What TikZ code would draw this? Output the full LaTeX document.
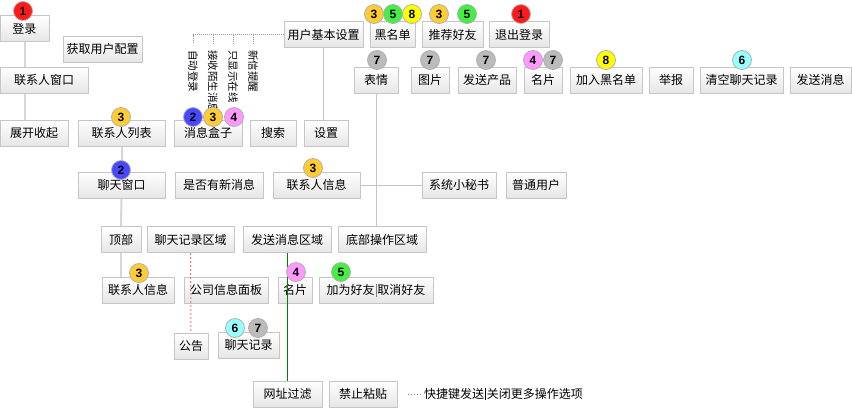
\documentclass[tikz,border=0pt]{standalone}
\usepackage{fontspec}
\setmainfont{Noto Sans CJK SC}
\newfontfamily\numfont{Liberation Sans}
\usetikzlibrary{backgrounds}
\definecolor{bordergray}{HTML}{C6C6C6}
\definecolor{boxbottom}{HTML}{E6E6E6}
\definecolor{linegray}{HTML}{D6D6D6}
\definecolor{thingray}{HTML}{C4C4C4}
\definecolor{badgeborder}{HTML}{B0B0B0}
\definecolor{cA}{HTML}{FF1A1A}
\definecolor{cB}{HTML}{4848FF}
\definecolor{cC}{HTML}{FFCC33}
\definecolor{cD}{HTML}{FF99FF}
\definecolor{cE}{HTML}{44EE44}
\definecolor{cF}{HTML}{99FFFF}
\definecolor{cG}{HTML}{BBBBBB}
\definecolor{cH}{HTML}{FFFF00}
\definecolor{greenline}{HTML}{008000}
\definecolor{redline}{HTML}{EE7777}
\begin{document}
\begin{tikzpicture}[x=1pt,y=-1pt,
  bx/.style={draw=bordergray, line width=1pt, top color=white, bottom color=boxbottom,
    minimum height=26pt, inner sep=0pt, font=\fontsize{12}{14}\selectfont},
  badge/.style={circle, draw=badgeborder, line width=0.8pt, minimum size=19pt, inner sep=0pt,
    font=\numfont\bfseries\fontsize{12}{12}\selectfont},
  vtext/.style={rotate=-90, anchor=west, inner xsep=7pt, inner ysep=0pt,
    font=\fontsize{10.5}{11}\selectfont},
  thick line/.style={draw=linegray, line width=2pt},
  thin line/.style={draw=thingray, line width=1pt},
  dotline/.style={draw=gray!80, line width=1pt, densely dotted}]
\useasboundingbox (0,0) rectangle (852,408);

% ---------- boxes ----------
\node[bx, minimum width=49pt] (login) at (24.5,28.5) {登录};
\node[bx, minimum width=79pt] (getcfg) at (102.5,49) {获取用户配置};
\node[bx, minimum width=88pt] (cwin) at (44,80) {联系人窗口};
\node[bx, minimum width=68pt] (expand) at (34,133) {展开收起};
\node[bx, minimum width=87pt] (clist) at (121.5,133) {联系人列表};
\node[bx, minimum width=68pt] (msgbox) at (208,133) {消息盒子};
\node[bx, minimum width=46pt] (search) at (273,133) {搜索};
\node[bx, minimum width=79pt] (usr) at (323.5,34.5) {用户基本设置};
\node[bx, minimum width=44pt] (setting) at (326,133) {设置};
\node[bx, minimum width=45pt] (black) at (392.5,34.5) {黑名单};
\node[bx, minimum width=61pt] (recom) at (452.5,34.5) {推荐好友};
\node[bx, minimum width=60pt] (logout) at (519,34.5) {退出登录};
\node[bx, minimum width=44pt] (emo) at (376,80) {表情};
\node[bx, minimum width=38pt] (pic) at (430,80) {图片};
\node[bx, minimum width=58pt] (prod) at (487,80) {发送产品};
\node[bx, minimum width=38pt] (card) at (543,80) {名片};
\node[bx, minimum width=72pt] (addblack) at (606,80) {加入黑名单};
\node[bx, minimum width=44pt] (report) at (671,80) {举报};
\node[bx, minimum width=83pt] (clear) at (741.5,80) {清空聊天记录};
\node[bx, minimum width=61pt] (send) at (820.5,80) {发送消息};
\node[bx, minimum width=87pt] (chatwin) at (121.5,185) {聊天窗口};
\node[bx, minimum width=88pt] (newmsg) at (219,185) {是否有新消息};
\node[bx, minimum width=87pt] (cinfo) at (316.5,185) {联系人信息};
\node[bx, minimum width=74pt] (secr) at (459,185) {系统小秘书};
\node[bx, minimum width=60pt] (normal) at (536,185) {普通用户};
\node[bx, minimum width=40pt] (top) at (121,239.5) {顶部};
\node[bx, minimum width=87pt] (chatarea) at (190.5,239.5) {聊天记录区域};
\node[bx, minimum width=88pt] (sendarea) at (287,239.5) {发送消息区域};
\node[bx, minimum width=88pt] (bottomarea) at (382,239.5) {底部操作区域};
\node[bx, minimum width=72pt] (cinfo2) at (138,290) {联系人信息};
\node[bx, minimum width=84pt] (company) at (226,290) {公司信息面板};
\node[bx, minimum width=34pt] (card2) at (295,290) {名片};
\node[bx, minimum width=114pt] (friend) at (376,290)
  {加为好友\hspace{1pt}\textcolor{gray}{\rule[-2.5pt]{0.7pt}{13pt}}\hspace{1pt}取消好友};
\node[bx, minimum width=34pt] (notice) at (191,346) {公告};
\node[bx, minimum width=61pt] (history) at (248.5,345) {聊天记录};
\node[bx, minimum width=69pt] (url) at (287.5,394) {网址过滤};
\node[bx, minimum width=68pt] (nopaste) at (363,394) {禁止粘贴};
\node[anchor=west, inner xsep=2pt, inner ysep=0pt, font=\fontsize{12}{14}\selectfont] (note) at (422,394)
  {快捷键发送\hspace{1pt}\rule[-2pt]{0.7pt}{12pt}\hspace{1pt}关闭更多操作选项};
\coordinate (notedots) at (408,394);

% ---------- vertical option texts ----------
\node[vtext] (v1) at (193,43) {自动登录};
\node[vtext] (v2) at (213,43) {接收陌生消息};
\node[vtext] (v3) at (233,43) {只显示在线};
\node[vtext] (v4) at (253,43) {新信提醒};

% ---------- connectors (behind boxes) ----------
\begin{scope}[on background layer]
  \draw[thick line] (login.south) -- (login.south |- expand.north);
  \draw[thick line] (clist.south) -- (chatwin.north);
  \draw[thick line] (chatwin.south) -- (top.north);
  \draw[thick line] (top.south) -- (top.south |- cinfo2.north);
  \draw[thin line] (usr.south) -- (usr.south |- setting.north);
  \draw[thin line] (emo.south) -- (emo.south |- bottomarea.north);
  \draw[thin line] (cinfo.east) -- (secr.west);
  \draw[dotline] (usr.west) -- (usr.west -| v1.west) -- (v1.west);
  \draw[dotline] (usr.west -| v2.west) -- (v2.west);
  \draw[dotline] (usr.west -| v3.west) -- (v3.west);
  \draw[dotline] (usr.west -| v4.west) -- (v4.west);
\end{scope}

% connectors drawn over boxes
\draw[draw=greenline, line width=1pt] (sendarea.south) -- (sendarea.south |- url.north);
\draw[draw=redline, line width=1pt, dash pattern=on 2pt off 2pt] (chatarea.south) -- (notice.north);
\draw[draw=gray, line width=1pt, dotted] (notedots) -- (note.west);

% ---------- badges ----------
\node[badge, fill=cA] (bLogin) at (23,11) {1};
\node[badge, fill=cC] (bBl3) at (374,14) {3};
\node[badge, fill=cE] (bBl5) at (393,14) {5};
\node[badge, fill=cH] (bBl8) at (412,14) {8};
\node[badge, fill=cC] (bRc3) at (439,14) {3};
\node[badge, fill=cE] (bRc5) at (467,14) {5};
\node[badge, fill=cA] (bOut) at (521,14) {1};
\node[badge, fill=cG] (bEmo) at (377,60) {7};
\node[badge, fill=cG] (bPic) at (430,60) {7};
\node[badge, fill=cG] (bProd) at (486,60) {7};
\node[badge, fill=cD] (bCard4) at (533,60) {4};
\node[badge, fill=cG] (bCard7) at (553,60) {7};
\node[badge, fill=cH] (bAddBl) at (606,60) {8};
\node[badge, fill=cF] (bClear) at (742,60) {6};
\node[badge, fill=cC] (bClist) at (121,117) {3};
\node[badge, fill=cB] (bMsg2) at (193,117) {2};
\node[badge, fill=cC] (bMsg3) at (213,117) {3};
\node[badge, fill=cD] (bMsg4) at (234,117) {4};
\node[badge, fill=cB] (bChat) at (121,170) {2};
\node[badge, fill=cC] (bCinfo) at (313,168) {3};
\node[badge, fill=cC] (bCinfo2) at (139,273) {3};
\node[badge, fill=cD] (bCard2) at (296,272) {4};
\node[badge, fill=cE] (bFriend) at (341,272) {5};
\node[badge, fill=cF] (bHist6) at (235,328) {6};
\node[badge, fill=cG] (bHist7) at (258,328) {7};
\end{tikzpicture}
\end{document}
